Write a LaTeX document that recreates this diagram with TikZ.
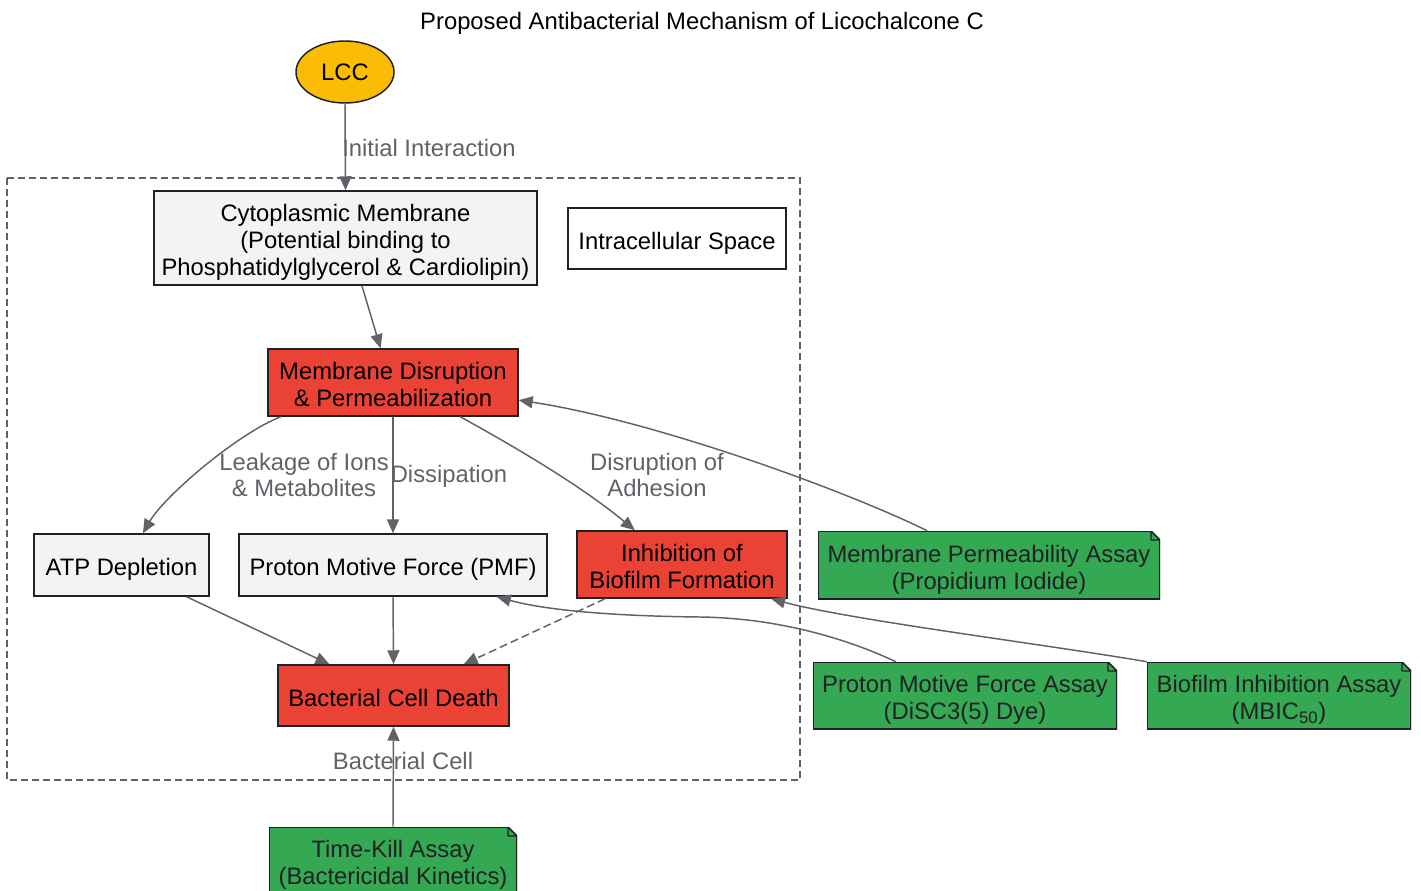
\documentclass[tikz,border=0pt]{standalone}
\usepackage{fontspec}
\setmainfont{Liberation Sans}
\usetikzlibrary{shapes.geometric,arrows.meta,calc}
\definecolor{gGreen}{HTML}{34A853}
\definecolor{gRed}{HTML}{EA4335}
\definecolor{gYellow}{HTML}{FBBC05}
\definecolor{gLight}{HTML}{F1F3F4}
\definecolor{gEdge}{HTML}{5F6368}
\definecolor{gBorder}{HTML}{202124}
\def\pxu{0.75pt}
\newcommand\topstr{\rule{0pt}{19.8pt}}
\newcommand\botstr{\rule[-4pt]{0pt}{4pt}}
\begin{document}
\begin{tikzpicture}[x=0.75pt,y=-0.75pt,
  font=\fontsize{17.85}{20.2}\selectfont,
  box/.style={draw=gBorder, line width=1.1pt, inner sep=0pt, align=center, text=black},
  greybox/.style={box, fill=gLight},
  redbox/.style={box, fill=gRed},
  whitebox/.style={box, fill=white},
  notebox/.style={rectangle, inner sep=0pt, align=center, text=gBorder, fill=white,
    path picture={
      \fill[gGreen] (path picture bounding box.south west)
        -- (path picture bounding box.north west)
        -- ([xshift=-6.75pt]path picture bounding box.north east)
        -- ([yshift=-6.75pt]path picture bounding box.north east)
        -- (path picture bounding box.south east) -- cycle;
      \draw[gBorder, line width=2.2pt]
        ([xshift=-6.75pt]path picture bounding box.north east)
        -- (path picture bounding box.north west)
        -- (path picture bounding box.south west)
        -- (path picture bounding box.south east)
        -- ([yshift=-6.75pt]path picture bounding box.north east);
      \draw[gBorder, line width=1.1pt, line join=round]
        ([xshift=-6.75pt]path picture bounding box.north east)
        -- ([yshift=-6.75pt]path picture bounding box.north east)
        -- ([xshift=-6.75pt,yshift=-6.75pt]path picture bounding box.north east)
        -- cycle;}},
  link/.style={draw=gEdge, line width=1.1pt, -{Triangle[length=10.5pt,width=9pt]}},
  elabel/.style={text=gEdge, align=center, inner sep=0pt},
  cluster/.style={draw=gEdge, line width=1pt, dash pattern=on 5.25pt off 3pt}
]
\useasboundingbox (0,0) rectangle (1421,891);

% title
\node[inner sep=0pt] (title) at (702,23.5) {Proposed Antibacterial Mechanism of Licochalcone C};

% cluster
\draw[cluster] (7,178) rectangle (800,780);
\node[elabel] (clab) at (403,761) {Bacterial Cell};

% nodes
\node[ellipse, draw=gBorder, line width=1.1pt, fill=gYellow, inner sep=0pt,
      minimum width={98*\pxu}, minimum height={62*\pxu}] (lcc) at (345,72) {\raisebox{-0.75pt}{LCC}};
\node[greybox, minimum width={383*\pxu}, minimum height={94*\pxu}] (cyto) at (345.5,238)
  {\topstr Cytoplasmic Membrane\\(Potential binding to\\Phosphatidylglycerol \& Cardiolipin)\botstr};
\node[whitebox, minimum width={218*\pxu}, minimum height={61*\pxu}] (intra) at (677,238.5)
  {\topstr Intracellular Space\botstr};
\node[redbox, minimum width={250*\pxu}, minimum height={67*\pxu}] (disr) at (393,382.5)
  {\topstr Membrane Disruption\\\& Permeabilization\botstr};
\node[greybox, minimum width={175*\pxu}, minimum height={62*\pxu}] (atp) at (121.5,565)
  {\topstr ATP Depletion\botstr};
\node[greybox, minimum width={308*\pxu}, minimum height={62*\pxu}] (pmf) at (393,565)
  {\topstr Proton Motive Force (PMF)\botstr};
\node[redbox, minimum width={210*\pxu}, minimum height={67*\pxu}] (bio) at (682,564.5)
  {\topstr Inhibition of\\Biofilm Formation\botstr};
\node[redbox, minimum width={231*\pxu}, minimum height={61*\pxu}] (death) at (393.5,695.5)
  {\topstr Bacterial Cell Death\botstr};
\node[notebox, minimum width={342*\pxu}, minimum height={68*\pxu}] (mpa) at (989,565)
  {\topstr Membrane Permeability Assay\\(Propidium Iodide)\botstr};
\node[notebox, minimum width={304*\pxu}, minimum height={67*\pxu}] (pmfa) at (965,695.5)
  {\topstr Proton Motive Force Assay\\(DiSC3(5) Dye)\botstr};
\node[notebox, minimum width={264*\pxu}, minimum height={67*\pxu}] (bia) at (1279,695.5)
  {\topstr Biofilm Inhibition Assay\\(MBIC\textsubscript{50})\botstr};
\node[notebox, minimum width={248*\pxu}, minimum height={67*\pxu}] (tka) at (393,860.5)
  {\topstr Time-Kill Assay\\(Bactericidal Kinetics)\botstr};

% edges
\draw[link] (lcc.south) -- (cyto.north);
\node[elabel, anchor=west] (l1) at (342,148) {Initial Interaction};
\draw[link] (cyto.-71) -- (disr.110);
\draw[link] (disr.197) .. controls (240,432) and (165,495) .. (atp.56);
\node[elabel] (l2) at (304,475) {Leakage of Ions\\\& Metabolites};
\draw[link] (disr.south) -- (pmf.north);
\node[elabel] (l3) at (449,476) {Dissipation};
\draw[link] (disr.-27) .. controls (515,447) and (580,485) .. (bio.144);
\node[elabel] (l4) at (657,475) {Disruption of\\Adhesion};
\draw[link] (atp.-26) -- (death.154);
\draw[link] (pmf.south) -- (death.north);
\draw[link, dash pattern=on 6pt off 3pt] (bio.204) -- (death.24);
\draw[link] (mpa.151) .. controls (840,488) and (650,420) .. (disr.-8);
\draw[link] (pmfa.154) .. controls (850,640) and (780,618) .. (700,617)
  .. controls (610,616) and (545,610) .. (pmf.-17);
\draw[link] (bia.north west) .. controls (1050,645) and (850,620) .. (bio.-21);
\draw[link] (tka.north) -- (death.south);
\end{tikzpicture}
\end{document}
